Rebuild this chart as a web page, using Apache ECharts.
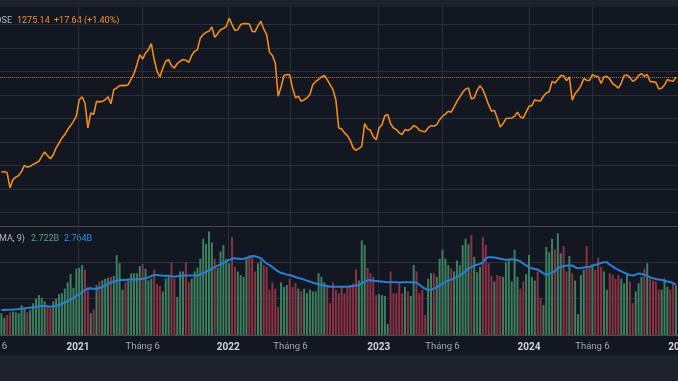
<!DOCTYPE html>
<html><head><meta charset="utf-8">
<script src="https://cdn.jsdelivr.net/npm/echarts@6/dist/echarts.min.js"></script>
<style>
html,body{margin:0;padding:0;}
body{width:678px;height:381px;overflow:hidden;background:linear-gradient(to bottom,#1e222d 0,#1e222d 7px,#131722 7px,#131722 355px,#1e222d 355px,#1e222d 381px);}
#chart{width:678px;height:381px;}
</style></head><body><div id="chart"></div>
<script>
// ---- data (weekly, first week starting 2020-06-29) ----
const weekStart = [2020, 5, 29];
const symbolName = 'HOSE';
const volumeLegend = 'Volume (MA, 9)';
const prices = [
870,874,867,804,839,850,856,874,900,892,
896,904,910,917,938,957,941,928,945,974,
995,1016,1031,1052,1069,1087,1109,1179,1191,1165,
1059,1123,1116,1172,1170,1172,1179,1191,1162,1222,
1229,1239,1240,1239,1243,1267,1290,1328,1371,1352,
1378,1392,1418,1350,1300,1276,1314,1343,1350,1324,
1314,1333,1343,1350,1347,1338,1367,1385,1392,1442,
1456,1466,1470,1489,1445,1460,1477,1482,1491,1526,
1499,1474,1477,1499,1503,1503,1501,1470,1469,1494,
1513,1480,1456,1381,1367,1335,1194,1233,1282,1286,
1285,1229,1187,1194,1172,1179,1187,1201,1243,1257,
1265,1276,1282,1265,1243,1222,1179,1059,1055,1038,
1026,1006,974,964,971,981,1077,1055,1049,1021,
1009,1059,1073,1111,1116,1077,1059,1052,1038,1031,
1052,1048,1055,1069,1063,1049,1045,1043,1059,1069,
1066,1073,1094,1109,1118,1130,1126,1148,1172,1191,
1211,1225,1229,1182,1187,1219,1239,1222,1191,1158,
1130,1134,1101,1063,1077,1099,1100,1101,1109,1126,
1106,1101,1126,1151,1154,1179,1175,1174,1194,1208,
1213,1257,1250,1265,1282,1281,1260,1276,1177,1205,
1219,1239,1269,1262,1261,1286,1279,1278,1248,1276,
1279,1267,1248,1239,1228,1250,1282,1284,1274,1257,
1265,1282,1290,1279,1286,1257,1255,1253,1225,1228,
1242,1265,1260,1257.5,1275.14
];
const volumes = [
1.2,0.95,1.1,1.25,1.3,1.25,1.2,1.65,1.45,1.25,
1.4,1.75,2.0,2.2,2.05,1.85,1.65,1.5,1.85,2.0,
2.25,2.3,2.55,2.9,3.35,2.6,3.65,3.7,3.85,3.6,
2.65,1.2,1.4,2.75,2.95,3.0,3.1,3.15,3.2,3.25,
4.4,3.95,2.5,2.9,3.0,3.4,3.4,3.4,3.8,3.9,
3.65,3.0,3.1,3.6,2.8,2.7,2.4,3.1,3.3,4.0,
3.1,2.1,3.5,3.5,4.0,2.9,3.1,3.5,3.7,4.2,
5.3,5.0,5.7,5.1,4.2,3.7,4.6,4.95,4.2,3.95,
5.4,3.75,3.5,3.3,3.2,4.2,4.4,4.3,3.5,3.95,
4.1,3.85,3.75,2.5,2.9,2.55,1.55,2.9,2.65,2.75,
3.1,2.65,2.85,2.55,2.4,2.55,2.3,2.5,2.4,2.4,
3.4,3.2,2.9,2.7,1.75,2.9,2.5,2.3,2.65,2.3,
2.65,2.75,2.85,3.6,3.0,5.2,4.95,3.7,3.4,3.2,
2.2,2.25,2.2,2.15,0.6,3.5,2.3,2.3,2.85,2.3,
2.65,2.4,2.15,3.85,3.5,2.3,2.5,1.1,3.1,3.4,
3.4,3.2,4.2,4.7,4.2,3.85,3.65,3.5,4.1,3.85,
4.95,5.3,5.0,5.5,4.3,3.45,3.75,5.4,4.95,3.95,
3.25,2.95,3.3,3.25,3.2,4.0,4.1,2.95,4.7,3.2,
2.55,2.95,3.35,4.4,3.2,3.0,3.5,2.05,1.65,4.85,
4.55,5.3,4.7,5.6,4.5,4.9,3.5,4.35,3.4,3.0,
1.15,3.3,3.6,4.9,3.75,3.9,3.6,4.25,3.75,3.5,
2.5,3.4,3.3,3.1,3.3,3.1,2.85,3.4,2.95,1.75,
2.4,2.85,3.2,3.65,3.95,3.1,3.0,2.95,2.5,2.5,
3.1,2.65,2.5,2.85,2.722
];
const volumeMA = [
1.38,1.38,1.39,1.39,1.41,1.41,1.43,1.45,1.47,1.49,
1.52,1.52,1.56,1.58,1.60,1.60,1.58,1.56,1.58,1.61,
1.65,1.72,1.80,1.87,1.96,2.04,2.15,2.24,2.35,2.48,
2.55,2.57,2.55,2.53,2.59,2.64,2.72,2.81,2.88,2.95,
2.99,3.03,3.03,3.03,3.05,3.06,3.06,3.06,3.08,3.08,
3.12,3.16,3.25,3.30,3.30,3.28,3.27,3.25,3.27,3.23,
3.21,3.23,3.25,3.27,3.28,3.28,3.27,3.27,3.28,3.32,
3.41,3.49,3.56,3.65,3.74,3.82,3.89,3.98,4.04,4.13,
4.20,4.22,4.20,4.18,4.20,4.24,4.29,4.35,4.33,4.29,
4.22,4.07,3.94,3.85,3.74,3.61,3.50,3.41,3.38,3.32,
3.30,3.25,3.19,3.14,3.10,3.05,2.99,2.94,2.88,2.84,
2.79,2.75,2.73,2.70,2.66,2.66,2.66,2.66,2.66,2.66,
2.66,2.68,2.70,2.73,2.75,2.84,2.94,3.01,3.01,2.99,
2.97,2.95,2.94,2.92,2.90,2.91,2.90,2.90,2.89,2.90,
2.90,2.91,2.90,2.90,2.89,2.77,2.64,2.55,2.46,2.48,
2.55,2.62,2.73,2.83,2.92,2.99,3.05,3.10,3.19,3.28,
3.39,3.52,3.67,3.74,3.82,3.87,3.91,4.00,4.22,4.28,
4.28,4.26,4.24,4.20,4.17,4.13,4.15,4.17,4.15,4.11,
4.06,3.93,3.83,3.74,3.67,3.63,3.60,3.50,3.39,3.32,
3.36,3.43,3.52,3.69,3.74,3.78,3.82,3.83,3.83,3.72,
3.67,3.69,3.72,3.74,3.76,3.82,3.85,3.91,3.96,4.00,
4.00,3.87,3.78,3.67,3.58,3.50,3.43,3.36,3.30,3.27,
3.32,3.39,3.36,3.32,3.25,3.17,3.12,3.08,3.06,3.03,
2.99,2.95,2.92,2.86,2.764
];
const tickLabels = ['2020-06-01','2021-01-01','2021-06-07','2022-01-01','2022-06-01','2023-01-01','2023-06-05','2024-01-01','2024-06-03','2025-01-01'];

// ---- build ----
const n = prices.length;
const dates = prices.map((_, i) => new Date(weekStart[0], weekStart[1], weekStart[2] + 7 * i).getTime());
const ticks = tickLabels.map(s => { const p = s.split('-').map(Number); return new Date(p[0], p[1] - 1, p[2]).getTime(); });

const PAD = 40;
const anchorA = new Date(2021, 0, 1).getTime(), anchorB = new Date(2024, 0, 1).getTime();
const msPerPx = (anchorB - anchorA) / (529 - 78);
const xMin = anchorA - (78 + PAD) * msPerPx;
const xMax = anchorA + (678 + PAD - 78) * msPerPx;

const GRID = '#2a2e39', EDGE = '#454955';
const UP = '#3e7f60', DOWN = '#8b3245';
const ORANGE = '#f08c1a', BLUE = '#2680d4';
const FONT = 'Roboto, "Liberation Sans", sans-serif';

const last = prices[n - 1], prev = prices[n - 2];
const chg = last - prev, pct = chg / prev * 100;
const sgn = chg >= 0 ? '+' : '';
const priceText = last.toFixed(2);
const chgText = sgn + chg.toFixed(2) + ' (' + sgn + pct.toFixed(2) + '%)';
const volText = volumes[n - 1].toFixed(3) + 'B';
const maText = volumeMA[n - 1].toFixed(3) + 'B';

const barData = volumes.map((v, i) => ({
  value: [dates[i], v],
  itemStyle: { color: (i === 0 || prices[i] >= prices[i - 1]) ? UP : DOWN }
}));

const gridBase = { left: -PAD, right: -PAD, containLabel: false, outerBoundsMode: 'none' };
const hiddenY = { axisLine: { show: false }, axisTick: { show: false }, axisLabel: { show: false } };

const chart = echarts.init(document.getElementById('chart'), null, { renderer: 'canvas', width: 678, height: 381 });
chart.setOption({
  backgroundColor: 'transparent',
  animation: false,
  grid: [
    Object.assign({ top: 24.3, height: 188 }, gridBase),
    Object.assign({ top: 226, height: 109 }, gridBase),
    Object.assign({ top: 7, height: 328 }, gridBase)
  ],
  xAxis: [
    { gridIndex: 0, type: 'value', min: xMin, max: xMax, show: false, scale: true },
    { gridIndex: 1, type: 'value', min: xMin, max: xMax, scale: true,
      axisLine: { show: false }, axisTick: { show: false }, splitLine: { show: false },
      axisLabel: {
        customValues: ticks, margin: 7, hideOverlap: false,
        formatter: function (v) {
          const d = new Date(v);
          return d.getMonth() === 0 ? '{y|' + d.getFullYear() + '}' : '{m|Tháng ' + (d.getMonth() + 1) + '}';
        },
        rich: {
          y: { fontFamily: FONT, fontSize: 10, fontWeight: 'bold', color: '#d1d4dc' },
          m: { fontFamily: FONT, fontSize: 9.5, color: '#a3a6af' }
        }
      } },
    { gridIndex: 2, type: 'value', min: xMin, max: xMax, scale: true,
      axisLine: { show: false }, axisLabel: { show: false },
      axisTick: { show: false, customValues: ticks },
      splitLine: { show: true, lineStyle: { color: GRID, width: 1 } } }
  ],
  yAxis: [
    Object.assign({ gridIndex: 0, type: 'value', min: 700, max: 1500, interval: 100,
      splitLine: { lineStyle: { color: GRID, width: 1 } } }, hiddenY),
    Object.assign({ gridIndex: 1, type: 'value', min: 0, max: 6, interval: 2,
      splitLine: { lineStyle: { color: [EDGE, GRID, GRID, EDGE], width: 1 } } }, hiddenY),
    { gridIndex: 2, type: 'value', show: false, splitLine: { show: false } }
  ],
  series: [
    { name: 'Giá', type: 'line', xAxisIndex: 0, yAxisIndex: 0,
      data: dates.map((d, i) => [d, prices[i]]),
      showSymbol: false, clip: false, z: 5,
      lineStyle: { color: ORANGE, width: 1.6 },
      markLine: { silent: true, symbol: ['none', 'none'], label: { show: false },
        lineStyle: { type: 'dotted', color: ORANGE, width: 1, opacity: 0.75 },
        data: [{ yAxis: last }] } },
    { name: 'Volume', type: 'bar', xAxisIndex: 1, yAxisIndex: 1,
      data: barData, barWidth: 2, z: 2 },
    { name: 'MA 9', type: 'line', xAxisIndex: 1, yAxisIndex: 1,
      data: dates.map((d, i) => [d, volumeMA[i]]),
      showSymbol: false, z: 4,
      lineStyle: { color: BLUE, width: 2 } }
  ],
  graphic: [
    { type: 'text', x: 12, y: 20.7, style: { text: symbolName, fill: '#b2b5be', font: '9px ' + FONT, align: 'right', verticalAlign: 'middle' } },
    { type: 'text', x: 17, y: 20.7, style: { text: priceText, fill: '#ef9430', font: '9px ' + FONT, align: 'left', verticalAlign: 'middle' } },
    { type: 'text', x: 54, y: 20.7, style: { text: chgText, fill: '#ef9430', font: '9px ' + FONT, align: 'left', verticalAlign: 'middle' } },
    { type: 'text', x: 25, y: 239, style: { text: volumeLegend, fill: '#b2b5be', font: '9px ' + FONT, align: 'right', verticalAlign: 'middle' } },
    { type: 'text', x: 31, y: 239, style: { text: volText, fill: '#4ea57a', font: '9px ' + FONT, align: 'left', verticalAlign: 'middle' } },
    { type: 'text', x: 64, y: 239, style: { text: maText, fill: '#2e8fe6', font: '9px ' + FONT, align: 'left', verticalAlign: 'middle' } }
  ]
});
</script></body></html>
